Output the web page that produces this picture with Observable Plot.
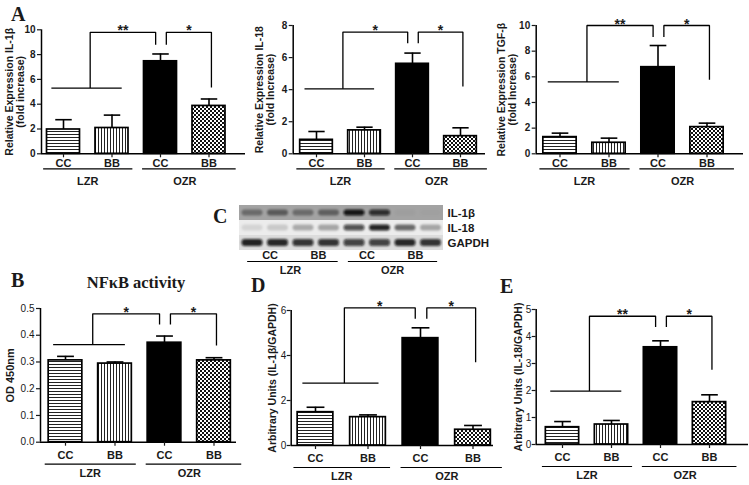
<!DOCTYPE html>
<html><head><meta charset="utf-8">
<script src="https://cdn.jsdelivr.net/npm/d3@7"></script>
<script src="https://cdn.jsdelivr.net/npm/@observablehq/plot@0.6"></script>
<style>
html,body{margin:0;padding:0;background:#fff;}
#fig{position:relative;width:749px;height:485px;overflow:hidden;background:#fff;}
.panel{position:absolute;}
.panel svg{overflow:visible;}
#overlay{position:absolute;left:0;top:0;}
</style></head><body>
<svg width="0" height="0" style="position:absolute">
<defs>
<pattern id="hstripe" width="4" height="3" patternUnits="userSpaceOnUse"><rect width="4" height="3" fill="#fff"/><rect y="2" width="4" height="1" fill="#222"/></pattern>
<pattern id="vstripe" width="3" height="4" patternUnits="userSpaceOnUse"><rect width="3" height="4" fill="#fff"/><rect x="2" width="1" height="4" fill="#222"/></pattern>
<pattern id="checker" width="4" height="4" patternUnits="userSpaceOnUse"><rect width="4" height="4" fill="#fff"/><rect width="2" height="2" fill="#111"/><rect x="2" y="2" width="2" height="2" fill="#111"/></pattern>
<filter id="blur" x="-20%" y="-50%" width="140%" height="200%"><feGaussianBlur stdDeviation="1.3"/></filter>
</defs></svg>
<div id="fig"></div>
<script>
// ---------- data ----------
const treatments = ["CC", "BB", "CC", "BB"];
const groups = ["LZR", "OZR"];

// Panel A: relative expression
const il1bMean = [1.96, 2.08, 7.46, 3.86];
const il1bErr = [0.79, 1.04, 0.59, 0.56];
const il1bBracket = [5.3, 9.8, 8.8, 5.35];   // LZR line, top, left drop, right drop
const il1bStars = ["**", "*"];
const il1bTicks = [0, 2, 4, 6, 8, 10];

const il18Mean = [0.87, 1.46, 5.61, 1.1];
const il18Err = [0.52, 0.2, 0.67, 0.52];
const il18Bracket = [4.05, 7.59, 6.9, 4.2];
const il18Stars = ["*", "*"];
const il18Ticks = [0, 2, 4, 6, 8];

const tgfMean = [1.3, 0.86, 6.75, 2.08];
const tgfErr = [0.31, 0.36, 1.69, 0.31];
const tgfBracket = [5.6, 10.0, 9.1, 5.77];
const tgfStars = ["**", "*"];
const tgfTicks = [0, 2, 4, 6, 8, 10];

// Panel B: NFkB activity
const nfkbMean = [0.306, 0.294, 0.372, 0.306];
const nfkbErr = [0.015, 0.006, 0.025, 0.01];
const nfkbBracket = [0.365, 0.48, 0.44, 0.362];
const nfkbStars = ["*", "*"];
const nfkbTicks = [0, 0.1, 0.2, 0.3, 0.4, 0.5];

// Panel D: IL-1β / GAPDH
const wbIl1bMean = [1.48, 1.26, 4.77, 0.7];
const wbIl1bErr = [0.22, 0.1, 0.46, 0.19];
const wbIl1bBracket = [2.77, 6.12, 5.63, 3.7];
const wbIl1bStars = ["*", "*"];
const wbIl1bTicks = [0, 2, 4, 6];

// Panel E: IL-18 / GAPDH
const wbIl18Mean = [0.64, 0.74, 3.6, 1.57];
const wbIl18Err = [0.21, 0.15, 0.24, 0.27];
const wbIl18Bracket = [1.98, 4.75, 4.35, 2.77];
const wbIl18Stars = ["**", "*"];
const wbIl18Ticks = [0, 1, 2, 3, 4, 5];

// Panel C: western blot band intensities (8 lanes)
const blotRows = ["IL-1β", "IL-18", "GAPDH"];
const blotIl1b = [0.35, 0.45, 0.35, 0.42, 0.95, 0.8, 0.03, 0.02];
const blotIl18 = [0.1, 0.15, 0.28, 0.3, 0.7, 0.9, 0.55, 0.3];
const blotGapdh = [0.9, 0.88, 0.82, 0.82, 0.75, 0.75, 0.88, 0.82];

// ---------- styles ----------
const barFills = ["url(#hstripe)", "url(#vstripe)", "#000", "url(#checker)"];
const rowShade = ["#a3a3a3", "#ececec", "#dcdcdc"];
const SANS = "'Liberation Sans', Arial, sans-serif";
const SERIF = "'Liberation Serif', 'Times New Roman', serif";
const INK = "#1a1a1a";

const fig = document.getElementById("fig");
function place(node, left, top) {
  const d = document.createElement("div");
  d.className = "panel";
  d.style.left = left + "px";
  d.style.top = top + "px";
  d.appendChild(node);
  fig.appendChild(d);
}

function barPanel(p) {
  const L = p.layout;
  const x0 = (L.axisX - L.c0) / L.step, x1 = (L.rightX - L.c0) / L.step;
  const yMax = p.ticks[p.ticks.length - 1];
  const hw = 0.34, cap = 0.17;
  const rows = p.mean.map((m, i) => ({i, m, top: m + p.err[i], fill: barFills[i]}));
  const [lv, tv, d1, d2] = p.bracket;
  const bx = {a: -0.25, b: 1.2, mid: 0.55, dl: 1.9, dr: 2.12, end: 3.05};
  const path = [
    {k: 0, x: bx.a, y: lv}, {k: 0, x: bx.b, y: lv},
    {k: 1, x: bx.mid, y: lv}, {k: 1, x: bx.mid, y: tv}, {k: 1, x: bx.dl, y: tv}, {k: 1, x: bx.dl, y: d1},
    {k: 2, x: bx.dr, y: d1}, {k: 2, x: bx.dr, y: tv}, {k: 2, x: bx.end, y: tv}, {k: 2, x: bx.end, y: d2}
  ];
  const stars = [
    {s: p.stars[0], x: (bx.mid + bx.dl) / 2},
    {s: p.stars[1], x: (bx.dr + bx.end) / 2}
  ];
  const under = [{x1: -0.42, x2: 1.42}, {x1: 1.62, x2: 3.55}];
  const svg = Plot.plot({
    width: L.width, height: L.height,
    marginLeft: L.axisX - L.left,
    marginRight: L.left + L.width - L.rightX,
    marginTop: L.plotTop - L.top,
    marginBottom: L.top + L.height - L.plotBottom,
    x: {domain: [x0, x1], axis: null},
    y: {domain: [0, yMax], axis: null},
    color: {type: "identity"},
    style: {fontFamily: SANS, color: INK, background: "transparent", overflow: "visible"},
    marks: [
      Plot.rectY(rows, {x1: d => d.i - hw, x2: d => d.i + hw, y1: 0, y2: "m", fill: "fill", stroke: "#000", strokeWidth: 1.7}),
      Plot.ruleX(rows, {x: "i", y1: "m", y2: "top", stroke: "#000", strokeWidth: 1.6}),
      Plot.link(rows, {x1: d => d.i - cap, x2: d => d.i + cap, y1: "top", y2: "top", stroke: "#000", strokeWidth: 1.6}),
      Plot.line(path, {x: "x", y: "y", z: "k", stroke: "#000", strokeWidth: 1.3, strokeLinejoin: "miter", strokeLinecap: "butt"}),
      Plot.text(stars, {x: "x", y: tv, text: "s", fontSize: 14, fontWeight: "bold", lineAnchor: "bottom", dy: 3, fill: INK}),
      Plot.ruleX([x0], {y1: 0, y2: yMax, stroke: "#000", strokeWidth: 1.5}),
      Plot.ruleY([0], {stroke: "#000", strokeWidth: 1.6}),
      Plot.axisY(p.ticks, {tickSize: 4, tickPadding: L.yPad ?? 2, tickFormat: p.tickFormat, fontSize: 10, fontWeight: p.tickWeight, label: null, strokeWidth: 1.2}),
      Plot.axisX([0, 1, 2, 3], {tickSize: 4, tickPadding: L.tickPad, tickFormat: i => treatments[i], fontSize: 11, fontWeight: "bold", label: null, strokeWidth: 1.2}),
      Plot.link(under, {x1: "x1", x2: "x2", y1: 0, y2: 0, dy: L.underDy, stroke: "#000", strokeWidth: 1.2}),
      Plot.text(groups, {x: (d, i) => 0.5 + 2 * i, y: 0, dy: L.groupDy, text: d => d, fontSize: 11, fontWeight: "bold", fill: INK}),
      Plot.text([p.label], {frameAnchor: "left", textAnchor: "middle", lineAnchor: "middle", dx: p.labelDx, rotate: -90, text: d => d, fontSize: p.labelSize, fontWeight: "bold", lineHeight: 1.05, fill: INK})
    ]
  });
  place(svg, L.left, L.top);
}

const topRow = {tickPad: 1, underDy: 15, groupDy: 28};
const botRow = {tickPad: 5, underDy: 22, groupDy: 31};

barPanel({
  mean: il1bMean, err: il1bErr, bracket: il1bBracket, stars: il1bStars, ticks: il1bTicks,
  tickFormat: d3.format("d"), tickWeight: "bold",
  label: "Relative Expression IL-1β\n(fold increase)", labelDx: -27, labelSize: 10.5,
  layout: {left: 0, top: 0, width: 250, height: 195, axisX: 41, plotTop: 29.3, plotBottom: 153.3, rightX: 245, c0: 63, step: 48.5, ...topRow}
});
barPanel({
  mean: il18Mean, err: il18Err, bracket: il18Bracket, stars: il18Stars, ticks: il18Ticks,
  tickFormat: d3.format("d"), tickWeight: "bold",
  label: "Relative Expression IL-18\n(fold Increase)", labelDx: -28, labelSize: 10.5,
  layout: {left: 245, top: 0, width: 250, height: 195, axisX: 292.7, plotTop: 25, plotBottom: 153.3, rightX: 485, c0: 316, step: 48, ...topRow}
});
barPanel({
  mean: tgfMean, err: tgfErr, bracket: tgfBracket, stars: tgfStars, ticks: tgfTicks,
  tickFormat: d3.format("d"), tickWeight: "bold",
  label: "Relative Expression TGF-β\n(fold Increase)", labelDx: -29, labelSize: 10.5,
  layout: {left: 495, top: 0, width: 254, height: 195, axisX: 535.7, plotTop: 25, plotBottom: 153.3, rightX: 743, c0: 559.5, step: 49, ...topRow}
});
barPanel({
  mean: nfkbMean, err: nfkbErr, bracket: nfkbBracket, stars: nfkbStars, ticks: nfkbTicks,
  tickFormat: d3.format(".1f"), tickWeight: "normal",
  label: "OD 450nm", labelDx: -30, labelSize: 11,
  layout: {left: 0, top: 290, width: 245, height: 195, axisX: 40, plotTop: 308, plotBottom: 441.7, rightX: 236, c0: 65, step: 49.5, ...botRow}
});
barPanel({
  mean: wbIl1bMean, err: wbIl1bErr, bracket: wbIl1bBracket, stars: wbIl1bStars, ticks: wbIl1bTicks,
  tickFormat: d3.format("d"), tickWeight: "normal",
  label: "Arbitrary Units (IL-1β/GAPDH)", labelDx: -19, labelSize: 10.5,
  layout: {left: 245, top: 290, width: 250, height: 195, axisX: 290.7, plotTop: 310, plotBottom: 445, rightX: 493, c0: 315, step: 52.5, yPad: 1, ...botRow}
});
barPanel({
  mean: wbIl18Mean, err: wbIl18Err, bracket: wbIl18Bracket, stars: wbIl18Stars, ticks: wbIl18Ticks,
  tickFormat: d3.format("d"), tickWeight: "normal",
  label: "Arbitrary Units (IL-18/GAPDH)", labelDx: -17.5, labelSize: 10.5,
  layout: {left: 495, top: 290, width: 254, height: 195, axisX: 535.7, plotTop: 309, plotBottom: 444, rightX: 748, c0: 562, step: 49, yPad: 1, ...botRow}
});

// ---------- Panel C: blot ----------
const blotBg = blotRows.map((r, ri) => ({ri, shade: rowShade[ri]}));
const bands = [];
[blotIl1b, blotIl18, blotGapdh].forEach((arr, ri) => arr.forEach((v, lane) => bands.push({ri, lane, v})));
const bandHalf = [0.2, 0.2, 0.24];
const blot = Plot.plot({
  width: 300, height: 78, marginLeft: 34, marginRight: 62, marginTop: 5, marginBottom: 28,
  x: {domain: [0, 8], axis: null},
  y: {domain: [0, 3], reverse: true, axis: null},
  color: {type: "identity"},
  opacity: {type: "identity"},
  style: {fontFamily: SANS, color: INK, background: "transparent", overflow: "visible"},
  marks: [
    Plot.rect(blotBg, {x1: 0, x2: 8, y1: "ri", y2: d => d.ri + 1, fill: "shade"}),
    Plot.rect(bands, {x1: d => d.lane + 0.1, x2: d => d.lane + 0.92,
      y1: d => d.ri + 0.5 - bandHalf[d.ri], y2: d => d.ri + 0.5 + bandHalf[d.ri],
      fill: "#0a0a0a", fillOpacity: "v", rx: 3}),
    Plot.text(blotRows, {x: 8, y: (d, i) => i + 0.5, dx: 4, text: d => d, textAnchor: "start", fontSize: 11.5, fontWeight: "bold", fill: INK}),
    Plot.text(treatments, {x: (d, i) => 1.2 + 1.9 * i, y: 3, dy: 1, lineAnchor: "top", text: d => d, fontSize: 11, fontWeight: "bold", fill: INK}),
    Plot.link([{x1: 0.3, x2: 3.85}, {x1: 4.25, x2: 7.75}], {x1: "x1", x2: "x2", y1: 3, y2: 3, dy: 11, stroke: "#000", strokeWidth: 1.2}),
    Plot.text(groups, {x: (d, i) => 2 + 4 * i, y: 3, dy: 20, text: d => d, fontSize: 11, fontWeight: "bold", fill: INK})
  ]
});
d3.select(blot).selectAll('g[aria-label="rect"]').filter((d, i) => i === 1).attr("filter", "url(#blur)");
place(blot, 205, 200);

// ---------- panel letters and title ----------
const ov = d3.select(fig).append("svg").attr("id", "overlay").attr("width", 749).attr("height", 485)
  .style("position", "absolute").style("left", 0).style("top", 0).style("pointer-events", "none");
const letters = [
  {t: "A", x: 11, y: 21}, {t: "B", x: 11, y: 287}, {t: "C", x: 213, y: 223},
  {t: "D", x: 251, y: 292}, {t: "E", x: 500, y: 293}
];
ov.selectAll("text.l").data(letters).join("text").attr("class", "l")
  .attr("x", d => d.x).attr("y", d => d.y).text(d => d.t)
  .attr("font-family", SERIF).attr("font-weight", "bold").attr("font-size", 20).attr("fill", INK);
ov.append("text").attr("x", 136).attr("y", 288).attr("text-anchor", "middle")
  .attr("font-family", SERIF).attr("font-weight", "bold").attr("font-size", 16.5).attr("fill", INK)
  .text("NFκB activity");
</script>
</body></html>
